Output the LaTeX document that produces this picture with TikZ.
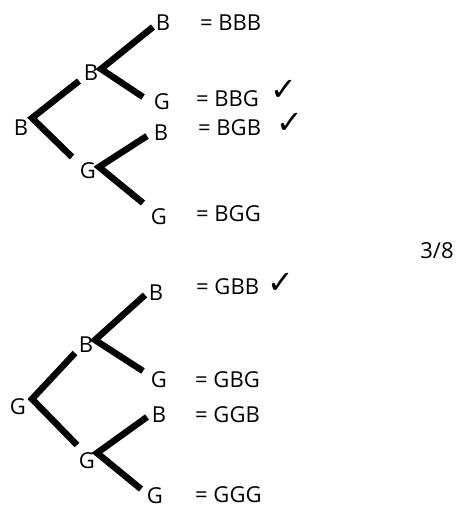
\documentclass[tikz,border=0pt]{standalone}
\usepackage{fontspec}
\setmainfont{Open Sans}
\newfontfamily\symfont{DejaVu Sans}
\begin{document}
\begin{tikzpicture}[x=1pt,y=-1pt,
  letter/.style={inner sep=0pt, font=\fontsize{22}{26}\selectfont},
  result/.style={inner sep=0pt, anchor=west, font=\fontsize{22}{26}\selectfont},
  tick/.style={inner sep=0pt, font=\symfont\fontsize{32}{38}\selectfont},
  branch/.style={line width=6.5pt, line join=miter, black}]
\useasboundingbox (0,0) rectangle (458,508);
% top tree
\node[letter] (rB) at (21,128) {B};
\node[letter] (tB1) at (91,73) {B};
\node[letter] (tG1) at (88,171) {G};
\node[letter] (lBBB) at (163,23) {B};
\node[letter] (lBBG) at (162,102) {G};
\node[letter] (lBGB) at (161,133) {B};
\node[letter] (lBGG) at (159,217) {G};
\node[result] (rBBB) at (200,23) {= BBB};
\node[result] (rBBG) at (196,99) {= BBG};
\node[result] (rBGB) at (198,128) {= BGB};
\node[result] (rBGG) at (196,214) {= BGG};
\node[tick] (cBBG) at (284,90) {✓};
\node[tick] (cBGB) at (290,123) {✓};
\draw[branch] ([shift={(-12,8)}]tB1.center) -- ([shift={(11,-10)}]rB.center) -- ([shift={(-16,-14)}]tG1.center);
\draw[branch] ([shift={(-10,4)}]lBBB.center) -- ([shift={(10,-4)}]tB1.center) -- ([shift={(-19,-5)}]lBBG.center);
\draw[branch] ([shift={(-14,3)}]lBGB.center) -- ([shift={(11,-4)}]tG1.center) -- ([shift={(-16,-14)}]lBGG.center);
% fraction
\node[letter] (frac) at (437,251) {3/8};
% bottom tree
\node[letter] (rG) at (18,407) {G};
\node[letter] (bB1) at (86,345) {B};
\node[letter] (bG1) at (87,461) {G};
\node[letter] (lGBB) at (156,293) {B};
\node[letter] (lGBG) at (159,380) {G};
\node[letter] (lGGB) at (159,415) {B};
\node[letter] (lGGG) at (155,496) {G};
\node[result] (rGBB) at (196,287) {= GBB};
\node[result] (rGBG) at (195,380) {= GBG};
\node[result] (rGGB) at (195,415) {= GGB};
\node[result] (rGGG) at (195,495) {= GGG};
\node[tick] (cGBB) at (281,283) {✓};
\draw[branch] ([shift={(-11,8)}]bB1.center) -- ([shift={(14,-8)}]rG.center) -- ([shift={(-10,-16)}]bG1.center);
\draw[branch] ([shift={(-11,2)}]lGBB.center) -- ([shift={(9,-5)}]bB1.center) -- ([shift={(-16,-9)}]lGBG.center);
\draw[branch] ([shift={(-12,2)}]lGGB.center) -- ([shift={(10,-8)}]bG1.center) -- ([shift={(-14,-7)}]lGGG.center);
\end{tikzpicture}
\end{document}
